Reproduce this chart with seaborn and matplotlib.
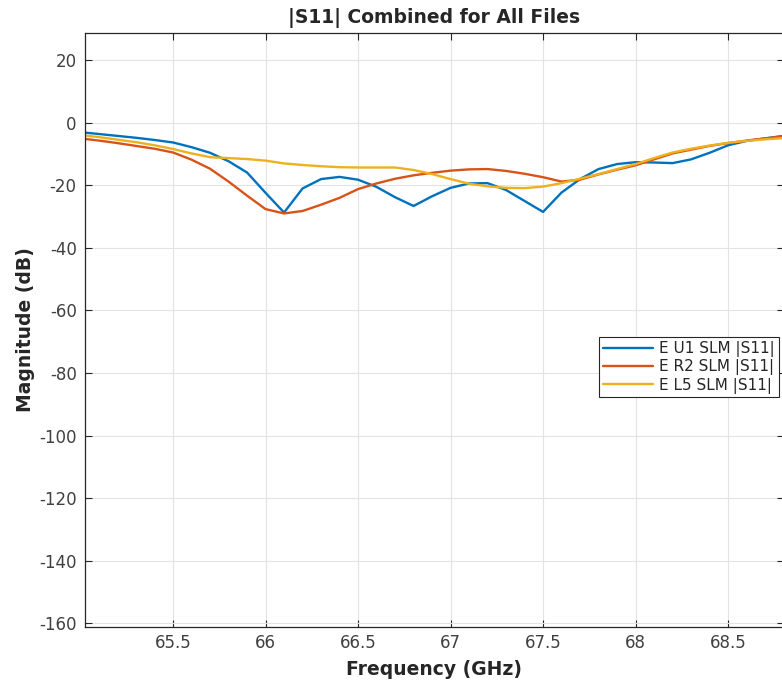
import matplotlib
matplotlib.use("Agg")
import matplotlib.pyplot as plt
import seaborn as sns
import pandas as pd

freq = [65.0, 65.1, 65.2, 65.3, 65.4, 65.5, 65.6, 65.7, 65.8, 65.9,
        66.0, 66.1, 66.2, 66.3, 66.4, 66.5, 66.6, 66.7, 66.8, 66.9,
        67.0, 67.1, 67.2, 67.3, 67.4, 67.5, 67.6, 67.7, 67.8, 67.9,
        68.0, 68.1, 68.2, 68.3, 68.4, 68.5, 68.6, 68.7, 68.8]

u1 = [-3.0, -3.6, -4.2, -4.8, -5.5, -6.3, -7.8, -9.6, -12.3, -15.9,
      -22.4, -28.7, -21.0, -18.0, -17.3, -18.2, -20.5, -23.8, -26.6, -23.5,
      -20.8, -19.4, -19.3, -21.5, -25.0, -28.5, -22.3, -18.0, -14.8, -13.2,
      -12.6, -12.7, -12.9, -11.7, -9.6, -7.2, -5.8, -5.0, -4.2]

r2 = [-5.0, -5.7, -6.5, -7.4, -8.3, -9.5, -11.8, -14.7, -18.8, -23.3,
      -27.6, -29.0, -28.2, -26.2, -24.0, -21.2, -19.4, -17.9, -16.8, -16.0,
      -15.3, -14.9, -14.8, -15.4, -16.3, -17.4, -18.8, -18.2, -16.5, -15.0,
      -13.6, -11.7, -9.8, -8.6, -7.4, -6.5, -5.7, -5.0, -4.3]

l5 = [-3.9, -4.6, -5.4, -6.2, -7.2, -8.4, -9.8, -11.0, -11.3, -11.6,
      -12.1, -13.0, -13.5, -13.9, -14.2, -14.3, -14.3, -14.3, -15.1, -16.4,
      -18.0, -19.5, -20.3, -20.8, -20.9, -20.4, -19.3, -17.9, -16.4, -14.8,
      -13.2, -11.3, -9.5, -8.3, -7.3, -6.4, -5.8, -5.3, -4.9]

series_names = ["E U1 SLM |S11|", "E R2 SLM |S11|", "E L5 SLM |S11|"]
colors = ["#0072BD", "#D95319", "#EDB120"]
xticks = [65.5, 66, 66.5, 67, 67.5, 68, 68.5]
xtick_labels = ["65.5", "66", "66.5", "67", "67.5", "68", "68.5"]
yticks = [20, 0, -20, -40, -60, -80, -100, -120, -140, -160]

df = pd.concat([
    pd.DataFrame({"Frequency": freq, "Magnitude": vals, "Series": name})
    for name, vals in zip(series_names, [u1, r2, l5])
])

sns.set_style("white")
plt.rcParams["font.family"] = ["DejaVu Sans"]

fig = plt.figure(figsize=(7.82, 6.83), dpi=100)
ax = fig.add_axes([85 / 782, 1 - 627 / 683, 1 - 85 / 782 + 0.002, (627 - 33) / 683])

sns.lineplot(data=df, x="Frequency", y="Magnitude", hue="Series",
             palette=colors, linewidth=1.7, ax=ax, sort=False)

ax.set_xlim(65.024, 68.80)
ax.set_ylim(-161.2, 28.7)
ax.set_xticks(xticks)
ax.set_xticklabels(xtick_labels)
ax.set_yticks(yticks)
ax.set_yticklabels([str(t) for t in yticks])

ax.grid(True, color="#e3e3e3", linewidth=0.8)
ax.set_axisbelow(True)
for sp in ax.spines.values():
    sp.set_color("#262626")
    sp.set_linewidth(0.9)
ax.tick_params(axis="both", direction="in", length=5, width=0.8,
               colors="#262626", labelcolor="#404040", labelsize=12,
               top=True, right=True, bottom=True, left=True)
ax.tick_params(axis="x", pad=5)
ax.tick_params(axis="y", pad=6)

ax.set_xlabel("Frequency (GHz)", fontsize=13.5, fontweight="bold", color="#262626", labelpad=6)
ax.set_ylabel("Magnitude (dB)", fontsize=13.5, fontweight="bold", color="#262626", labelpad=3)
ax.set_title("|S11| Combined for All Files", fontsize=13.5, fontweight="bold",
             color="#262626", pad=7)

leg = ax.legend(loc="upper right", bbox_to_anchor=(0.993, 0.488), fontsize=11,
                frameon=True, fancybox=False, borderpad=0.25, labelspacing=0.15,
                handlelength=3.3, handletextpad=0.4, borderaxespad=0)
leg.get_frame().set_edgecolor("#262626")
leg.get_frame().set_linewidth(0.8)
leg.get_frame().set_alpha(1)
for t in leg.get_texts():
    t.set_color("#262626")
for h in leg.get_lines():
    h.set_linewidth(1.7)

fig.savefig("out.png", dpi=100)
